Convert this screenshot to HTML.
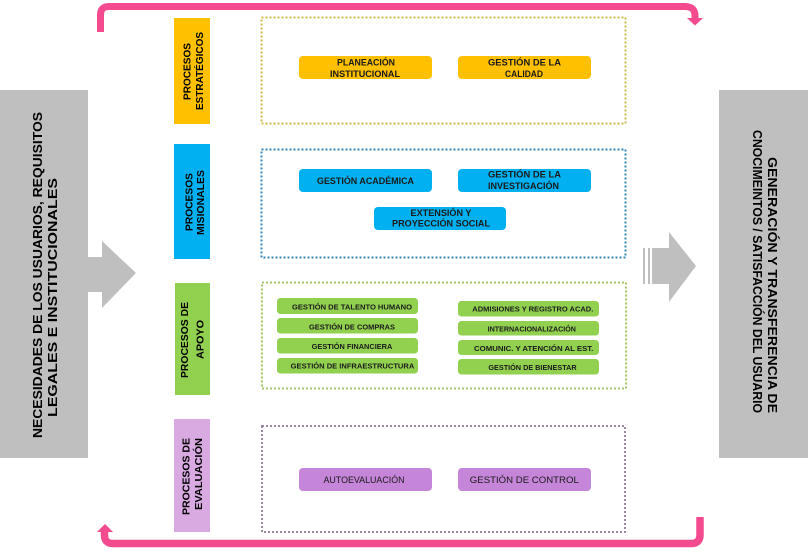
<!DOCTYPE html>
<html>
<head>
<meta charset="utf-8">
<style>
  html, body { margin: 0; padding: 0; background: #ffffff; }
  body { width: 808px; height: 553px; overflow: hidden; }
  svg { display: block; }
  text { font-family: "Liberation Sans", Arial, sans-serif; }
</style>
</head>
<body>
<svg width="808" height="553" viewBox="0 0 808 553" xmlns="http://www.w3.org/2000/svg">
  <rect x="0" y="0" width="808" height="553" fill="#ffffff"/>

  <!-- Pink cycle arrows -->
  <path d="M100.5,32 V15 Q100.5,6.5 109,6.5 H685 Q695,6.5 695,16 V19" fill="none" stroke="#f44a8e" stroke-width="7"/>
  <polygon points="687,18 703,18 695,25.5" fill="#f44a8e"/>
  <path d="M104.5,531 V535 Q104.5,543.5 113,543.5 H691 Q700,543.5 700,535 V517" fill="none" stroke="#f44a8e" stroke-width="7.5"/>
  <polygon points="97,532 113,532 105,524" fill="#f44a8e"/>

  <!-- Left gray block + arrow -->
  <rect x="0" y="90" width="88" height="368" fill="#bfbfbf"/>
  <rect x="87" y="257" width="16" height="35" fill="#bfbfbf"/>
  <polygon points="102,241 136,273 102,308" fill="#bfbfbf"/>
  <text transform="translate(42,275) rotate(-90)" text-anchor="middle" font-size="13" font-weight="bold" fill="#000" textLength="326" lengthAdjust="spacingAndGlyphs">NECESIDADES  DE LOS USUARIOS, REQUISITOS</text>
  <text transform="translate(57,297.5) rotate(-90)" text-anchor="middle" font-size="13" font-weight="bold" fill="#000" textLength="239" lengthAdjust="spacingAndGlyphs">LEGALES E INSTITUCIONALES</text>

  <!-- Right arrow + gray block -->
  <rect x="643" y="248" width="2" height="36" fill="#bfbfbf"/>
  <rect x="648" y="248" width="2" height="36" fill="#bfbfbf"/>
  <rect x="652" y="248" width="18" height="36" fill="#bfbfbf"/>
  <polygon points="669,232 696,266 669,302" fill="#bfbfbf"/>
  <rect x="719" y="90" width="89" height="368" fill="#bfbfbf"/>
  <text transform="translate(768,285) rotate(90)" text-anchor="middle" font-size="13" font-weight="bold" fill="#000" textLength="256" lengthAdjust="spacingAndGlyphs">GENERACIÓN  Y TRANSFERENCIA DE</text>
  <text transform="translate(753,271.5) rotate(90)" text-anchor="middle" font-size="13" font-weight="bold" fill="#000" textLength="283" lengthAdjust="spacingAndGlyphs">CNOCIMEINTOS / SATISFACCIÓN DEL USUARIO</text>

  <!-- Process labels -->
  <rect x="174" y="18" width="36" height="106" fill="#ffc000"/>
  <text transform="translate(190.5,71.5) rotate(-90)" text-anchor="middle" font-size="10" font-weight="bold" fill="#000" textLength="57" lengthAdjust="spacingAndGlyphs">PROCESOS</text>
  <text transform="translate(203,71) rotate(-90)" text-anchor="middle" font-size="10" font-weight="bold" fill="#000" textLength="78" lengthAdjust="spacingAndGlyphs">ESTRATÉGICOS</text>

  <rect x="174" y="144" width="36" height="115" fill="#00b0f0"/>
  <text transform="translate(192.5,202) rotate(-90)" text-anchor="middle" font-size="10" font-weight="bold" fill="#000" textLength="58" lengthAdjust="spacingAndGlyphs">PROCESOS</text>
  <text transform="translate(204,202.5) rotate(-90)" text-anchor="middle" font-size="10" font-weight="bold" fill="#000" textLength="65" lengthAdjust="spacingAndGlyphs">MISIONALES</text>

  <rect x="175" y="283" width="35" height="112" fill="#92d050"/>
  <text transform="translate(188,340) rotate(-90)" text-anchor="middle" font-size="10" font-weight="bold" fill="#000" textLength="76" lengthAdjust="spacingAndGlyphs">PROCESOS  DE</text>
  <text transform="translate(203.5,339.5) rotate(-90)" text-anchor="middle" font-size="10" font-weight="bold" fill="#000" textLength="39" lengthAdjust="spacingAndGlyphs">APOYO</text>

  <rect x="174" y="419" width="36" height="113" fill="#d9a9e2"/>
  <text transform="translate(189.5,476.5) rotate(-90)" text-anchor="middle" font-size="10" font-weight="bold" fill="#000" textLength="77" lengthAdjust="spacingAndGlyphs">PROCESOS  DE</text>
  <text transform="translate(202,474) rotate(-90)" text-anchor="middle" font-size="10" font-weight="bold" fill="#000" textLength="72" lengthAdjust="spacingAndGlyphs">EVALUACIÓN</text>

  <!-- Dotted group frames -->
  <rect x="261.5" y="17.5" width="364" height="106" fill="none" stroke="#d3b94c" stroke-width="2" stroke-dasharray="2 2"/>
  <rect x="261.5" y="149.5" width="364" height="108" fill="none" stroke="#3589bd" stroke-width="2" stroke-dasharray="2 2"/>
  <rect x="262" y="282.5" width="364" height="106" fill="none" stroke="#a3c866" stroke-width="2" stroke-dasharray="2 2"/>
  <rect x="262" y="426" width="363" height="106" fill="none" stroke="#9a88a0" stroke-width="2" stroke-dasharray="2 2"/>

  <!-- Strategic pills -->
  <g font-size="9" font-weight="bold" fill="#1a1a1a" text-anchor="middle">
    <rect x="299" y="56" width="133" height="23" rx="4" fill="#ffc000"/>
    <rect x="458" y="56" width="133" height="23" rx="4" fill="#ffc000"/>
    <text x="366" y="65.7" textLength="58" lengthAdjust="spacingAndGlyphs">PLANEACIÓN</text>
    <text x="365" y="76.9" textLength="70" lengthAdjust="spacingAndGlyphs">INSTITUCIONAL</text>
    <text x="524.5" y="65.7" textLength="73" lengthAdjust="spacingAndGlyphs">GESTIÓN  DE  LA</text>
    <text x="524" y="76.9" textLength="38" lengthAdjust="spacingAndGlyphs">CALIDAD</text>

    <!-- Misional pills -->
    <rect x="299" y="169" width="133" height="23" rx="4" fill="#00b0f0"/>
    <rect x="458" y="169" width="133" height="23" rx="4" fill="#00b0f0"/>
    <rect x="374" y="207" width="132" height="23" rx="4" fill="#00b0f0"/>
    <text x="365.5" y="184" textLength="97" lengthAdjust="spacingAndGlyphs">GESTIÓN  ACADÉMICA</text>
    <text x="524.5" y="177.3" textLength="73" lengthAdjust="spacingAndGlyphs">GESTIÓN  DE  LA</text>
    <text x="523.5" y="189" textLength="71" lengthAdjust="spacingAndGlyphs">INVESTIGACIÓN</text>
    <text x="441" y="216" textLength="61" lengthAdjust="spacingAndGlyphs">EXTENSIÓN Y</text>
    <text x="441" y="226.7" textLength="98" lengthAdjust="spacingAndGlyphs">PROYECCIÓN  SOCIAL</text>
  </g>

  <!-- Apoyo pills -->
  <g font-size="7.2" font-weight="bold" fill="#1a1a1a" text-anchor="middle">
    <rect x="277" y="298" width="141" height="16" rx="3.5" fill="#92d050"/>
    <rect x="277" y="318" width="141" height="15.5" rx="3.5" fill="#92d050"/>
    <rect x="277" y="338" width="141" height="15.5" rx="3.5" fill="#92d050"/>
    <rect x="277" y="358" width="141" height="15.5" rx="3.5" fill="#92d050"/>
    <rect x="458" y="301" width="141" height="15.5" rx="3.5" fill="#92d050"/>
    <rect x="458" y="321" width="141" height="14.5" rx="3.5" fill="#92d050"/>
    <rect x="458" y="340" width="141" height="15" rx="3.5" fill="#92d050"/>
    <rect x="458" y="359" width="141" height="15.5" rx="3.5" fill="#92d050"/>
    <text x="352" y="309.5" textLength="120" lengthAdjust="spacingAndGlyphs">GESTIÓN  DE TALENTO HUMANO</text>
    <text x="352" y="329.3" textLength="86" lengthAdjust="spacingAndGlyphs">GESTIÓN  DE COMPRAS</text>
    <text x="352" y="349" textLength="80.6" lengthAdjust="spacingAndGlyphs">GESTIÓN  FINANCIERA</text>
    <text x="352.5" y="368.3" textLength="123.6" lengthAdjust="spacingAndGlyphs">GESTIÓN  DE  INFRAESTRUCTURA</text>
    <text x="532.8" y="311.7" textLength="121" lengthAdjust="spacingAndGlyphs">ADMISIONES  Y REGISTRO  ACAD.</text>
    <text x="531.8" y="331.7" textLength="88.3" lengthAdjust="spacingAndGlyphs">INTERNACIONALIZACIÓN</text>
    <text x="533.7" y="351" textLength="119.3" lengthAdjust="spacingAndGlyphs">COMUNIC.  Y ATENCIÓN  AL EST.</text>
    <text x="532.5" y="370" textLength="88.3" lengthAdjust="spacingAndGlyphs">GESTIÓN  DE BIENESTAR</text>
  </g>

  <!-- Evaluación pills -->
  <g font-size="9" fill="#1a1a1a" text-anchor="middle">
    <rect x="299" y="468" width="133" height="23" rx="4" fill="#c585d8"/>
    <rect x="458" y="468" width="133" height="23" rx="4" fill="#c585d8"/>
    <text x="364" y="483" textLength="81" lengthAdjust="spacingAndGlyphs">AUTOEVALUACIÓN</text>
    <text x="524.3" y="483" textLength="109" lengthAdjust="spacingAndGlyphs">GESTIÓN  DE  CONTROL</text>
  </g>
</svg>
</body>
</html>
